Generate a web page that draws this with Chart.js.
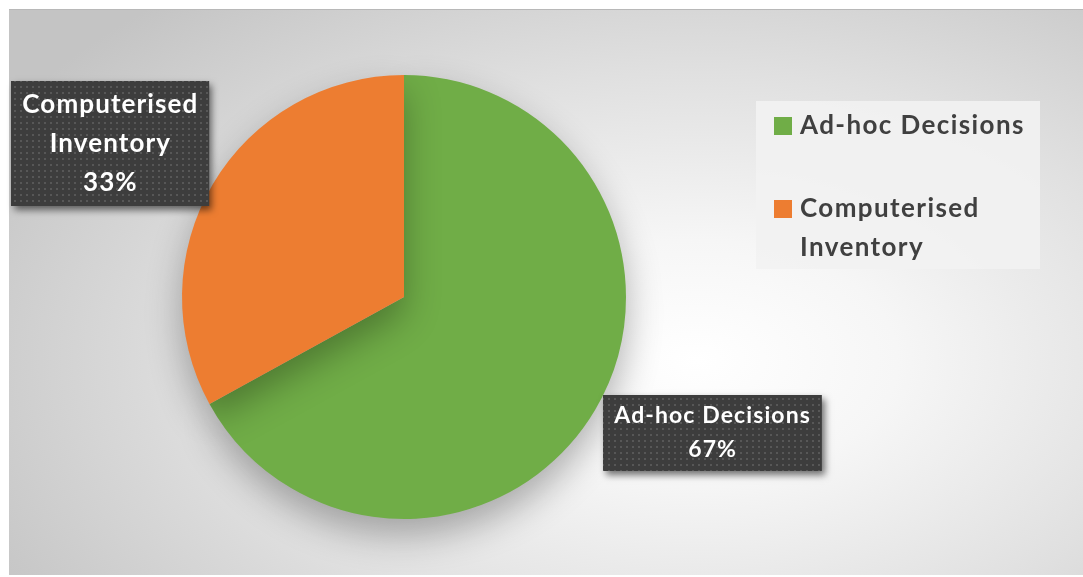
<!DOCTYPE html>
<html>
<head>
<meta charset="utf-8">
<script src="https://cdn.jsdelivr.net/npm/chart.js@4.4.1/dist/chart.umd.min.js"></script>
<style>
  html, body { margin: 0; padding: 0; background: #ffffff; }
  #wrap { position: relative; width: 1083px; height: 577px; overflow: hidden; }
  #panel {
    position: absolute; left: 9px; top: 9px; width: 1074px; height: 565px;
    background: radial-gradient(ellipse 75% 85% at 64% 62%, #ffffff 0%, #f6f6f6 25%, #e0e0e0 60%, #c4c4c4 100%);
    border-top: 1px solid #b8b8b8;
  }
  #chart { position: absolute; left: 0; top: 0; }
</style>
</head>
<body>
<div id="wrap">
  <div id="panel"></div>
  <canvas id="chart" width="1083" height="577"></canvas>
</div>
<script>
// --- Data ---
const labels = ['Ad-hoc Decisions', 'Computerised Inventory'];
const labelLines = [['Ad-hoc Decisions'], ['Computerised', 'Inventory']];
const legendLines = [['Ad-hoc Decisions'], ['Computerised', 'Inventory']];
const values = [67, 33];
const colors = ['#70ad47', '#ed7d31'];

const FONT = "'Lato', 'Carlito', 'Open Sans', sans-serif";

// dotted dark fill used behind the data labels
function makeDotPattern(ctx) {
    const c = document.createElement('canvas');
    c.width = 6; c.height = 6;
    const p = c.getContext('2d');
    p.fillStyle = '#3d3d3d';
    p.fillRect(0, 0, 6, 6);
    p.fillStyle = '#575757';
    p.fillRect(2, 2, 2, 2);
    return ctx.createPattern(c, 'repeat');
}

// --- Soft drop shadow under the pie ---
const pieShadow = {
    id: 'pieShadow',
    beforeDatasetsDraw(chart) {
        const ctx = chart.ctx;
        ctx.save();
        ctx.shadowColor = 'rgba(0,0,0,0.3)';
        ctx.shadowBlur = 36;
        ctx.shadowOffsetX = 0;
        ctx.shadowOffsetY = 16;
    },
    afterDatasetsDraw(chart) {
        chart.ctx.restore();
    }
};

// --- Callout style labels: name + percentage in a dark box ---
const labelShift = [{ x: 22, y: -34 }, { x: -7, y: 16 }];
const labelFont = [23, 26];
const labelLineH = [34, 39];
const calloutLabels = {
    id: 'calloutLabels',
    afterDatasetsDraw(chart) {
        const ctx = chart.ctx;
        const meta = chart.getDatasetMeta(0);
        const total = values.reduce((a, b) => a + b, 0);
        const pattern = makeDotPattern(ctx);
        ctx.save();
        meta.data.forEach((arc, i) => {
            ctx.font = 'bold ' + labelFont[i] + 'px ' + FONT;
            ctx.letterSpacing = '1.1px';
            const lineH = labelLineH[i];
            const mid = (arc.startAngle + arc.endAngle) / 2;
            const dist = arc.outerRadius * 1.5;
            const cx = arc.x + Math.cos(mid) * dist + labelShift[i].x;
            const cy = arc.y + Math.sin(mid) * dist + labelShift[i].y;
            const lines = labelLines[i].concat([Math.round(values[i] / total * 100) + '%']);
            const w = Math.max(...lines.map(l => ctx.measureText(l).width)) + 22;
            const h = lines.length * lineH + 8;
            const x0 = Math.round(cx - w / 2), y0 = Math.round(cy - h / 2);

            ctx.save();
            ctx.shadowColor = 'rgba(0,0,0,0.55)';
            ctx.shadowBlur = 7;
            ctx.shadowOffsetX = 3;
            ctx.shadowOffsetY = 4;
            ctx.fillStyle = '#3d3d3d';
            ctx.fillRect(x0, y0, w, h);
            ctx.restore();
            ctx.fillStyle = pattern;
            ctx.fillRect(x0, y0, w, h);

            ctx.fillStyle = '#ffffff';
            ctx.textAlign = 'center';
            ctx.textBaseline = 'middle';
            lines.forEach((l, k) => {
                ctx.fillText(l, cx, y0 + 4 + lineH * (k + 0.5));
            });
        });
        ctx.restore();
    }
};

// --- Legend on the right, inside a pale box ---
const sideLegend = {
    id: 'sideLegend',
    afterDraw(chart) {
        const ctx = chart.ctx;
        const bx = 756, by = 101, bw = 284, bh = 168;
        ctx.save();
        ctx.fillStyle = 'rgba(242,242,242,0.9)';
        ctx.fillRect(bx, by, bw, bh);
        ctx.font = 'bold 26px ' + FONT;
        ctx.letterSpacing = '1.4px';
        ctx.textBaseline = 'middle';
        ctx.textAlign = 'left';
        let y = by + 24;
        const rowGap = [83, 0];
        legendLines.forEach((lines, i) => {
            ctx.fillStyle = colors[i];
            ctx.fillRect(bx + 18, y - 8, 18, 18);
            ctx.fillStyle = '#404040';
            lines.forEach((l, k) => ctx.fillText(l, bx + 44, y + 1 + k * 39));
            y += rowGap[i];
        });
        ctx.restore();
    }
};

new Chart(document.getElementById('chart'), {
    type: 'pie',
    data: {
        labels: labels,
        datasets: [{ data: values, backgroundColor: colors, borderWidth: 0, hoverOffset: 0 }]
    },
    options: {
        responsive: false,
        animation: false,
        layout: { padding: { left: 182, right: 457, top: 75, bottom: 58 } },
        plugins: {
            legend: { display: false },
            tooltip: { enabled: false }
        }
    },
    plugins: [pieShadow, calloutLabels, sideLegend]
});
</script>
</body>
</html>
